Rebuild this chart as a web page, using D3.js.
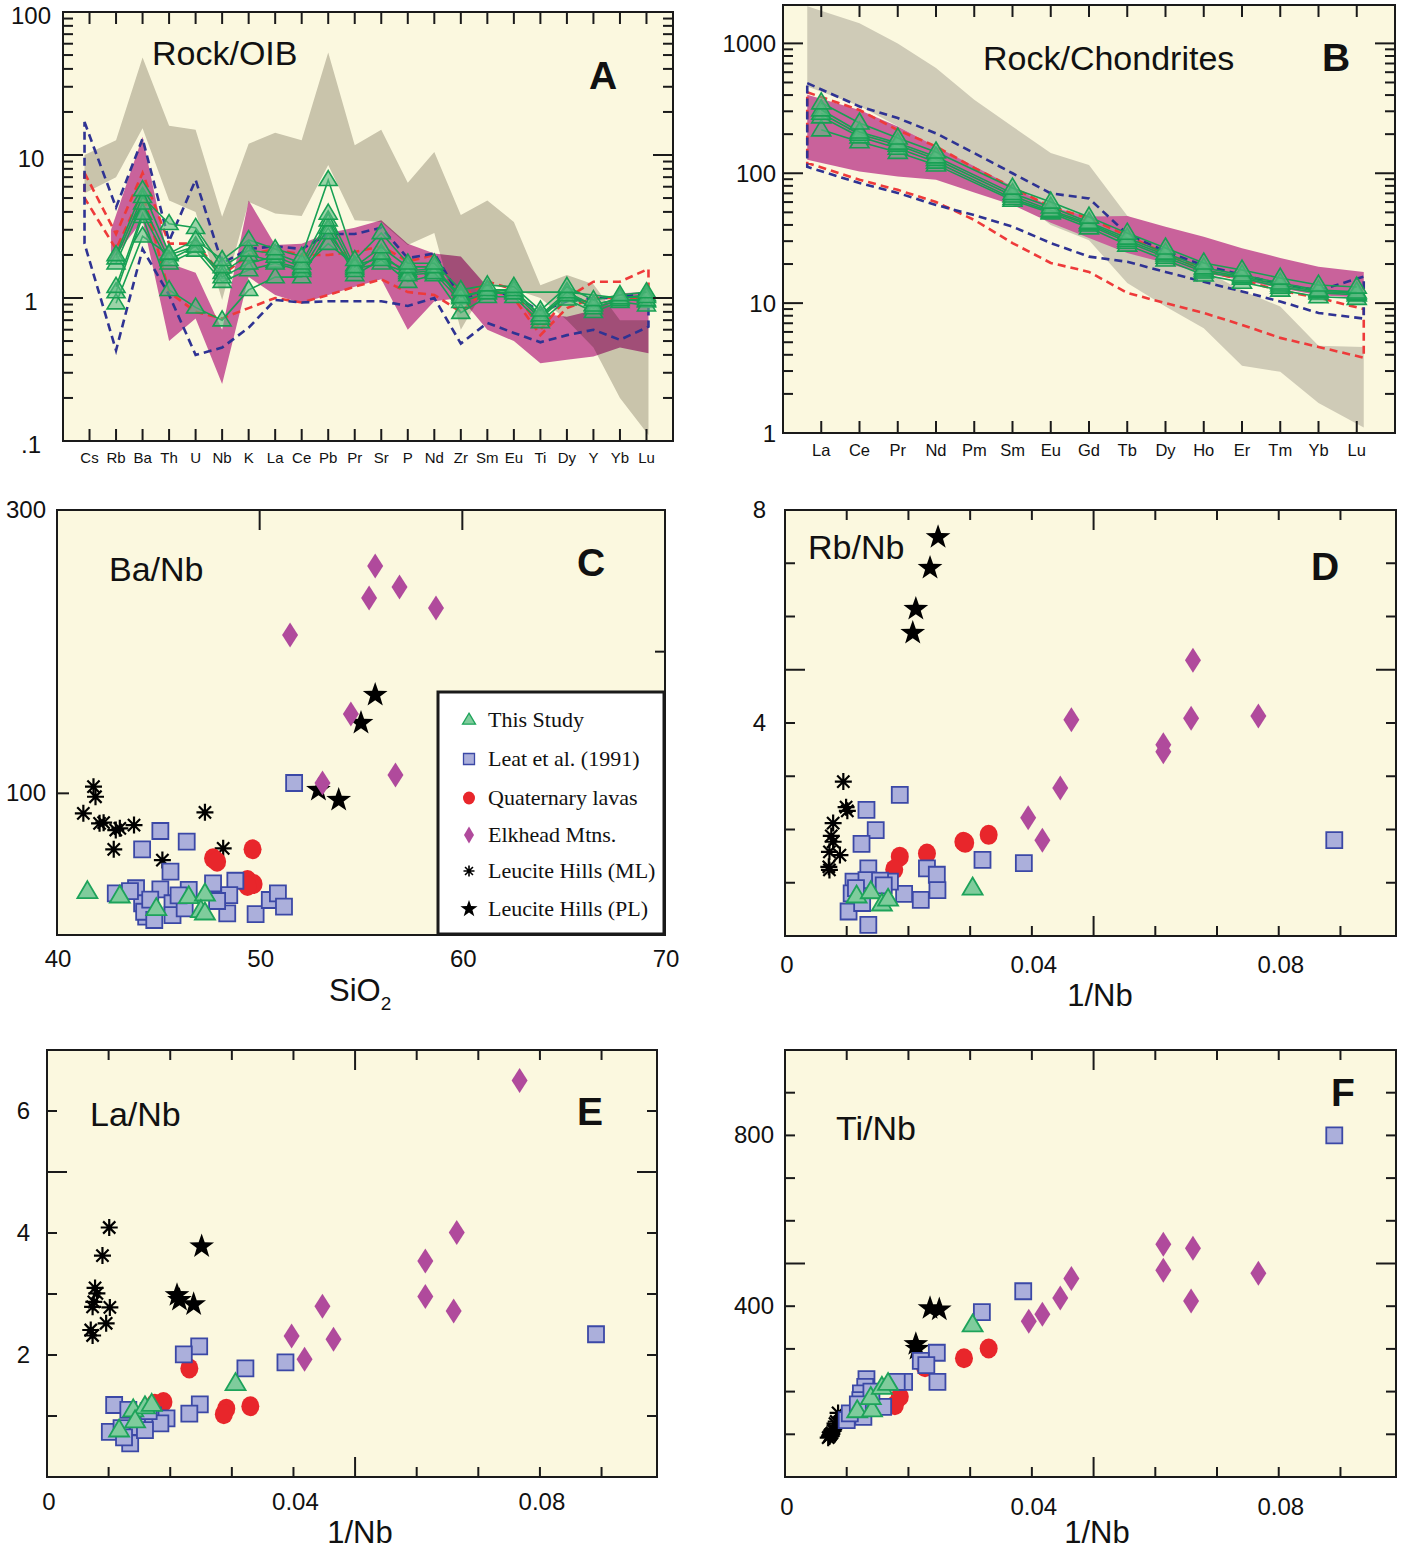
<!DOCTYPE html>
<html>
<head>
<meta charset="utf-8">
<script src="https://cdn.jsdelivr.net/npm/d3@7"></script>
<style>
  body { margin: 0; background: #fff; }
  svg text { font-family: "Liberation Sans", Arial, Helvetica, sans-serif; fill: #111; }
</style>
</head>
<body>
<svg id="fig" width="1406" height="1550"></svg>
<script>
// ---------- panel A : Rock/OIB spidergram ----------
var oibElements = ["Cs","Rb","Ba","Th","U","Nb","K","La","Ce","Pb","Pr","Sr","P","Nd","Zr","Sm","Eu","Ti","Dy","Y","Yb","Lu"];
var oibGreyHi = [10,12.7,48,16,15,3.7,12,14.3,12.7,52,11.7,15,6.4,10.5,3.8,4.8,3.4,1.23,1.45,1.25,0.7,0.7];
var oibGreyLo = [5.4,7.0,15.4,4.8,4.0,0.97,4.7,3.9,3.75,8.5,3.5,3.4,2.35,2.85,0.6,1.25,1.15,1.0,0.7,0.45,0.2,0.11];
var oibPinkHi = [null,3.0,13.4,1.75,1.5,0.6,4.8,2.35,2.4,2.85,3.1,3.5,2.4,2.05,1.95,1.2,1.0,0.78,0.74,0.82,1.08,1.1];
var oibPinkLo = [null,1.8,3.5,0.5,0.72,0.25,1.4,1.05,0.92,1.05,1.2,1.35,0.6,0.95,1.0,0.6,0.5,0.35,0.37,0.39,0.45,0.41];
var oibBlueHi = [17,4.3,13,2.5,6.7,1.75,2.2,2.3,2.2,2.8,2.8,3.1,1.9,2.05,1.0,1.1,1.05,0.8,0.95,1.0,1.0,1.1];
var oibBlueLo = [2.4,0.43,2.2,1.05,0.40,0.45,0.62,0.97,0.93,0.95,0.95,0.95,0.88,1.0,0.48,0.67,0.57,0.49,0.55,0.6,0.51,0.63];
var oibRedHi = [7.5,2.8,7.5,2.4,2.4,1.45,2.0,2.2,2.0,2.0,2.1,2.3,1.8,2.0,1.0,1.3,1.15,0.6,1.0,1.3,1.3,1.6];
var oibRedLo = [5.0,2.2,5.5,1.1,0.8,0.72,0.85,1.0,0.93,1.05,1.2,1.35,1.1,1.05,0.8,1.17,1.0,0.55,0.85,1.0,1.0,1.0];
var oibSample1 = [null,2.0,5.7,2.05,2.55,1.85,2.55,2.2,1.95,6.7,1.85,2.85,1.75,1.75,1.14,1.23,1.2,0.82,1.2,0.97,1.05,1.1];
var oibSample2 = [null,1.9,5.1,3.3,3.1,1.65,2.15,2.05,1.75,3.9,1.65,2.27,1.65,1.65,1.02,1.14,1.14,0.76,1.1,0.89,1.0,1.02];
var oibSample3 = [null,1.75,4.6,1.85,2.3,1.4,1.75,1.95,1.65,3.5,1.55,2.05,1.45,1.5,0.94,1.08,1.08,0.72,1.05,0.85,0.97,0.97];
var oibSample4 = [null,1.2,3.9,1.75,2.15,1.3,1.57,1.75,1.55,3.1,1.45,1.85,1.3,1.45,0.79,1.02,1.02,0.68,0.98,0.80,0.94,0.89];
var oibSample5 = [null,1.1,3.7,1.14,0.86,0.70,1.14,1.4,1.4,2.85,1.6,1.75,1.5,1.55,1.05,1.1,1.1,null,1.1,null,1.0,1.05];
var oibSample6 = [null,0.92,2.7,2.0,2.3,1.5,2.0,1.8,1.6,2.4,1.7,1.9,1.55,1.6,1.0,1.15,1.12,0.75,1.05,0.9,0.98,0.95];
var oibTicks = [0.1,1,10,100];
var oibTickLabels = [".1","1","10","100"];

// ---------- panel B : Rock/Chondrites REE ----------
var reeElements = ["La","Ce","Pr","Nd","Pm","Sm","Eu","Gd","Tb","Dy","Ho","Er","Tm","Yb","Lu"];
var reeGreyHi = [1930,1430,1000,645,368,229,143,116,47,30,18,12.5,9.4,4.7,4.6];
var reeGreyLo = [466,330,230,160,100,68,40,30.5,14.3,9.4,6.4,3.3,2.96,1.7,1.1];
var reePinkHi = [402,307,229,161,113,79,55,46.5,46.9,38.8,32.5,26.5,22.3,19.1,17.4];
var reePinkLo = [127,103,94.5,89,71,57,41.5,31.8,24.3,20.4,17,15,13,11.5,11];
var reeBlueHi = [494,327,266,203,143,100,70,64,34,25,19.5,16.5,14,12.5,16];
var reeBlueLo = [112,84,70.5,57,47.6,38.8,29,22.8,20.8,17.4,14.6,12.3,10.3,8.4,7.6];
var reeRedHi = [420,307,215,161,110,78,55,45,33,24,18,15,12.5,11,9];
var reeRedLo = [120,89,74.5,60,43.7,29,20.4,17.4,12,10,8.4,6.8,5.4,4.6,3.8];
var reeSample1 = [349,244,187,146,null,77,60,46,34.6,26.6,20.4,18,15.6,13.8,13.3];
var reeSample2 = [308,208,171,134,null,70,55,42,31.7,24.3,18.7,16.5,14.3,12.6,12.2];
var reeSample3 = [290,200,165,128,null,67,52,41,30.5,23.5,18,16,13.8,12.3,11.9];
var reeSample4 = [272,191,156,122,null,64,50.5,40,29.5,22.6,17.4,15.6,13.3,12,11.6];
var reeSample5 = [216,175,145,116,null,62,49.5,38,28,21.5,16.5,14.5,12.6,11.2,10.9];
var reeTicks = [1,10,100,1000];
var reeTickLabels = ["1","10","100","1000"];

// ---------- panel C : Ba/Nb vs SiO2 ----------
var baNbThisStudy = [[41.5,30.6],[43.1,27.5],[44.9,18.6],[46.5,27],[47.3,28.9],[47.1,17.2],[47.3,15.5]];
var baNbLeat = [[51.7,107.3],[45.1,73.4],[44.2,60.5],[46.4,65.9],[45.6,44.7],[42.9,29.4],[43.9,33],[44.2,22.4],[44.4,13],[45.1,32.2],[45.7,22.4],[45.7,14.1],[46.5,31.8],[46.3,18.8],[47.7,36.5],[48.8,38.3],[48.5,28.2],[48.4,15.3],[49.8,14.8],[50.5,24.7],[50.9,29.4],[51.2,20],[44.3,16.4],[44.8,10.6],[43.6,31],[44.6,25],[46.0,28],[47.9,24]];
var baNbQuaternary = [[47.7,54.1],[47.9,51.7],[49.65,60.5],[49.4,38.8],[49.7,36],[49.4,34.6]];
var baNbElkhead = [[55.7,260.5],[55.4,237.9],[56.9,245.6],[58.7,230.8],[51.5,211.8],[54.5,156],[53.1,107.3],[56.7,112.9]];
var baNbLeuciteML = [[41.8,104.7],[41.9,97.6],[41.3,85.9],[42.1,78.8],[42.3,79.3],[42.9,74.1],[43.1,75.3],[43.8,77.6],[42.8,60.5],[45.2,52.9],[47.3,86.6],[48.2,61.2]];
var baNbLeucitePL = [[55.7,169.4],[55.0,149.6],[53.9,95.3],[52.9,102.4]];

// ---------- panel D : Rb/Nb vs 1/Nb ----------
var rbNbThisStudy = [[0.0304,0.90],[0.0116,0.75],[0.0139,0.83],[0.0157,0.60],[0.0167,0.69]];
var rbNbLeat = [[0.0890,1.80],[0.0186,2.65],[0.0132,2.37],[0.0147,1.99],[0.0124,1.73],[0.0230,1.27],[0.0246,1.15],[0.0247,0.86],[0.0220,0.68],[0.0193,0.79],[0.0170,1.02],[0.0135,1.27],[0.0111,1.02],[0.0108,0.80],[0.0132,1.05],[0.0154,1.04],[0.0103,0.46],[0.0135,0.21],[0.0320,1.43],[0.0387,1.37],[0.0115,0.90],[0.0125,0.62],[0.0160,0.95]];
var rbNbQuaternary = [[0.0186,1.49],[0.0177,1.25],[0.0230,1.55],[0.0289,1.77],[0.0330,1.90],[0.0292,1.75]];
var rbNbElkhead = [[0.0661,5.18],[0.0464,4.06],[0.0658,4.09],[0.0767,4.13],[0.0613,3.59],[0.0613,3.46],[0.0446,2.78],[0.0394,2.22],[0.0417,1.80]];
var rbNbLeuciteML = [[0.00945,2.90],[0.0101,2.35],[0.0099,2.42],[0.0078,2.12],[0.0078,1.77],[0.0072,1.58],[0.0089,1.52],[0.0072,1.24],[0.0075,1.88],[0.0071,1.30]];
var rbNbLeucitePL = [[0.0248,7.49],[0.0235,6.91],[0.0212,6.14],[0.0207,5.69]];

// ---------- panel E : La/Nb vs 1/Nb ----------
var laNbThisStudy = [[0.0306,1.53],[0.0117,0.77],[0.0140,1.10],[0.0159,1.15],[0.0170,1.19],[0.0143,0.92]];
var laNbLeat = [[0.0891,2.34],[0.0247,2.14],[0.0222,2.01],[0.0322,1.78],[0.0387,1.88],[0.0248,1.19],[0.0231,1.04],[0.0109,1.18],[0.0132,1.10],[0.0102,0.74],[0.0121,0.80],[0.0135,0.55],[0.0148,0.82],[0.0172,1.01],[0.0194,0.96],[0.0184,0.88],[0.0159,0.77],[0.0125,0.65],[0.0165,1.08]];
var laNbQuaternary = [[0.0231,1.78],[0.0189,1.23],[0.0291,1.12],[0.0287,1.03],[0.0330,1.16],[0.0175,1.20]];
var laNbElkhead = [[0.0767,6.50],[0.0665,4.01],[0.0614,3.54],[0.0614,2.96],[0.0660,2.72],[0.0447,2.80],[0.0397,2.31],[0.0465,2.26],[0.0418,1.93]];
var laNbLeuciteML = [[0.0101,4.09],[0.0090,3.63],[0.0078,3.10],[0.0081,3.01],[0.0074,2.79],[0.0076,2.87],[0.0102,2.78],[0.0096,2.52],[0.0071,2.41],[0.0074,2.32]];
var laNbLeucitePL = [[0.0251,3.78],[0.0211,2.98],[0.0215,2.90],[0.0238,2.83]];

// ---------- panel F : Ti/Nb vs 1/Nb ----------
var tiNbThisStudy = [[0.0304,356],[0.0117,155],[0.0141,157],[0.0139,186],[0.0157,210],[0.0167,219]];
var tiNbLeat = [[0.0890,800],[0.0386,435],[0.0319,386],[0.0246,291],[0.0220,272],[0.0229,262],[0.0247,223],[0.0193,223],[0.0181,223],[0.0132,229],[0.0130,211],[0.0123,196],[0.0122,180],[0.0159,164],[0.0127,141],[0.0100,133],[0.0105,149],[0.0140,200],[0.0118,170]];
var tiNbQuaternary = [[0.0290,278],[0.0330,301],[0.0227,257],[0.0186,188],[0.0178,168]];
var tiNbElkhead = [[0.0613,545],[0.0661,536],[0.0613,484],[0.0767,477],[0.0464,465],[0.0658,412],[0.0446,419],[0.0417,381],[0.0395,365]];
var tiNbLeuciteML = [[0.0073,98],[0.0076,103],[0.0070,92],[0.0078,108],[0.0072,95],[0.0086,150],[0.0081,125],[0.0074,100],[0.0079,112],[0.0083,130]];
var tiNbLeucitePL = [[0.0235,395],[0.0250,392],[0.0212,311],[0.0214,300]];

var legendNames = ["This Study","Leat et al. (1991)","Quaternary lavas","Elkhead Mtns.","Leucite Hills (ML)","Leucite Hills (PL)"];

// ---------- style ----------
var cream = "#fbf8df";
var ink = "#1a1a1a";
var greenLine = "#17a053";
var triFill = "#7fcc9c", triStroke = "#1da35a";
var sqFill = "#abafdb", sqStroke = "#3b48a6";
var redFill = "#e8262b";
var diaFill = "#b04a9c";

var svg = d3.select("#fig");

// ---------- marker shapes ----------
function triPath(w, h) {
  return "M0," + (-h * 0.62) + "L" + (w / 2) + "," + (h * 0.38) + "L" + (-w / 2) + "," + (h * 0.38) + "Z";
}
function sqPath(s) {
  var a = s / 2;
  return "M" + (-a) + "," + (-a) + "h" + s + "v" + s + "h" + (-s) + "Z";
}
function diaPath(w, h) {
  return "M0," + (-h / 2) + "L" + (w / 2) + ",0L0," + (h / 2) + "L" + (-w / 2) + ",0Z";
}
function starPath(R) {
  var p = [];
  for (var i = 0; i < 10; i++) {
    var r = i % 2 === 0 ? R : R * 0.4;
    var a = -Math.PI / 2 + i * Math.PI / 5;
    p.push([r * Math.cos(a), r * Math.sin(a)]);
  }
  return "M" + p.join("L") + "Z";
}
function asterPath(s) {
  var a = s / 2, b = a * 0.72;
  return "M0," + (-a) + "V" + a + "M" + (-a) + ",0H" + a +
         "M" + (-b) + "," + (-b) + "L" + b + "," + b + "M" + (-b) + "," + b + "L" + b + "," + (-b);
}

// ---------- helpers ----------
function panelBox(id, x0, y0, x1, y1) {
  svg.append("clipPath").attr("id", id).append("rect")
    .attr("x", x0).attr("y", y0).attr("width", x1 - x0).attr("height", y1 - y0);
  var g = svg.append("g").attr("clip-path", "url(#" + id + ")");
  // background inside the group so blending sees the cream
  g.append("rect").attr("x", x0).attr("y", y0).attr("width", x1 - x0).attr("height", y1 - y0)
    .attr("fill", cream);
  return g;
}
function frameBox(x0, y0, x1, y1) {
  svg.append("rect").attr("x", x0).attr("y", y0).attr("width", x1 - x0).attr("height", y1 - y0)
    .attr("fill", "none").attr("stroke", ink).attr("stroke-width", 2);
}
function tick(x1, y1, x2, y2) {
  svg.append("line").attr("x1", x1).attr("y1", y1).attr("x2", x2).attr("y2", y2)
    .attr("stroke", ink).attr("stroke-width", 2);
}
function label(x, y, txt, size, anchor, weight) {
  return svg.append("text").attr("x", x).attr("y", y)
    .attr("font-size", size).attr("text-anchor", anchor || "start")
    .attr("font-weight", weight || "normal").text(txt);
}
function bandPath(x, y, names, hi, lo, extL, extR) {
  var idx = d3.range(names.length).filter(function (i) { return hi[i] != null; });
  var first = idx[0], last = idx[idx.length - 1];
  function px(i) { return x(names[i]) + (i === first ? -extL : (i === last ? extR : 0)); }
  var pts = idx.map(function (i) { return [px(i), y(hi[i])]; })
    .concat(idx.slice().reverse().map(function (i) { return [px(i), y(lo[i])]; }));
  return "M" + pts.join("L") + "Z";
}
function logSideTicks(y, x0, x1, lo, hi) {
  for (var d = lo; d < hi * 10; d *= 10) {
    for (var m = 1; m < 10; m++) {
      var v = m * d;
      if (v < lo * 0.999 || v > hi * 1.001) continue;
      var len = m === 1 ? 20 : 10;
      tick(x0, y(v), x0 + len, y(v));
      tick(x1 - len, y(v), x1, y(v));
    }
  }
}

// ---------- spidergram panel ----------
function spiderPanel(cfg) {
  var x = d3.scalePoint().domain(cfg.names).range([cfg.x0, cfg.x1]).padding(1);
  var y = d3.scaleLog().domain(cfg.yDomain).range([cfg.y1, cfg.y0]);
  var g = panelBox(cfg.id, cfg.x0, cfg.y0, cfg.x1, cfg.y1);

  if (cfg.multiply) {
    g.append("path").attr("d", bandPath(x, y, cfg.names, cfg.pinkHi, cfg.pinkLo, cfg.extL, cfg.extR))
      .attr("fill", "#c9629b");
    g.append("path").attr("d", bandPath(x, y, cfg.names, cfg.greyHi, cfg.greyLo, cfg.extL, cfg.extR))
      .attr("fill", cfg.grey).style("mix-blend-mode", "multiply");
  } else {
    g.append("path").attr("d", bandPath(x, y, cfg.names, cfg.greyHi, cfg.greyLo, cfg.extL, cfg.extR))
      .attr("fill", cfg.grey);
    g.append("path").attr("d", bandPath(x, y, cfg.names, cfg.pinkHi, cfg.pinkLo, cfg.extL, cfg.extR))
      .attr("fill", "#c9629b");
  }
  g.append("path").attr("d", bandPath(x, y, cfg.names, cfg.redHi, cfg.redLo, cfg.extL, cfg.extR))
    .attr("fill", "none").attr("stroke", "#ee3a3a").attr("stroke-width", 2.6)
    .attr("stroke-dasharray", "8,5");
  g.append("path").attr("d", bandPath(x, y, cfg.names, cfg.blueHi, cfg.blueLo, cfg.extL, cfg.extR))
    .attr("fill", "none").attr("stroke", "#2f3393").attr("stroke-width", 2.6)
    .attr("stroke-dasharray", "8,5");

  var line = d3.line().x(function (d) { return x(d.el); }).y(function (d) { return y(d.v); });
  cfg.samples.forEach(function (s) {
    var pts = cfg.names.map(function (el, i) { return { el: el, v: s[i] }; })
      .filter(function (d) { return d.v != null; });
    g.append("path").datum(pts).attr("d", line)
      .attr("fill", "none").attr("stroke", greenLine).attr("stroke-width", 1.6);
    g.selectAll(null).data(pts).enter().append("path")
      .attr("d", triPath(cfg.tri[0], cfg.tri[1]))
      .attr("transform", function (d) { return "translate(" + x(d.el) + "," + y(d.v) + ")"; })
      .attr("fill", "#5cbb82").attr("fill-opacity", 0.6)
      .attr("stroke", greenLine).attr("stroke-width", 1.6);
  });

  frameBox(cfg.x0, cfg.y0, cfg.x1, cfg.y1);
  logSideTicks(y, cfg.x0, cfg.x1, cfg.yDomain[0], cfg.yDomain[1]);
  cfg.names.forEach(function (el) {
    tick(x(el), cfg.y0, x(el), cfg.y0 + 12);
    tick(x(el), cfg.y1 - 12, x(el), cfg.y1);
    label(x(el), cfg.catY, el, cfg.catSize, "middle");
  });
  cfg.ticks.forEach(function (v, i) {
    label(cfg.tickX, y(v) + cfg.tickDy, cfg.tickLabels[i], 24, cfg.tickAnchor);
  });
}

spiderPanel({
  id: "clipA", x0: 63, y0: 12, x1: 673, y1: 441, yDomain: [0.1, 100],
  names: oibElements, grey: "#cdcac4", multiply: true,
  greyHi: oibGreyHi, greyLo: oibGreyLo, pinkHi: oibPinkHi, pinkLo: oibPinkLo,
  blueHi: oibBlueHi, blueLo: oibBlueLo, redHi: oibRedHi, redLo: oibRedLo,
  samples: [oibSample6, oibSample5, oibSample4, oibSample3, oibSample2, oibSample1],
  extL: 5, extR: 2, tri: [18, 15], catY: 463, catSize: 15,
  ticks: oibTicks, tickLabels: oibTickLabels, tickX: 31, tickAnchor: "middle", tickDy: 12
});
spiderPanel({
  id: "clipB", x0: 783, y0: 5, x1: 1395, y1: 433, yDomain: [1, 1975],
  names: reeElements, grey: "#cfcbb7", multiply: false,
  greyHi: reeGreyHi, greyLo: reeGreyLo, pinkHi: reePinkHi, pinkLo: reePinkLo,
  blueHi: reeBlueHi, blueLo: reeBlueLo, redHi: reeRedHi, redLo: reeRedLo,
  samples: [reeSample5, reeSample4, reeSample3, reeSample2, reeSample1],
  extL: 14, extR: 7, tri: [19, 16], catY: 456, catSize: 16.5,
  ticks: reeTicks, tickLabels: reeTickLabels, tickX: 776, tickAnchor: "end", tickDy: 9
});

label(152, 65, "Rock/OIB", 34);
label(589, 89, "A", 39, "start", "bold");
label(983, 70, "Rock/Chondrites", 34);
label(1322, 71, "B", 39, "start", "bold");

// ---------- scatter panels ----------
function drawSeries(g, x, y, sets) {
  function place(d) { return "translate(" + x(d[0]) + "," + y(d[1]) + ")"; }
  g.selectAll(null).data(sets.pl).enter().append("path")
    .attr("d", starPath(13)).attr("transform", place).attr("fill", "#000");
  g.selectAll(null).data(sets.ml).enter().append("path")
    .attr("d", asterPath(17)).attr("transform", place)
    .attr("fill", "none").attr("stroke", "#000").attr("stroke-width", 2.2);
  g.selectAll(null).data(sets.quat).enter().append("ellipse")
    .attr("cx", function (d) { return x(d[0]); }).attr("cy", function (d) { return y(d[1]); })
    .attr("rx", 9).attr("ry", 10).attr("fill", redFill);
  g.selectAll(null).data(sets.leat).enter().append("path")
    .attr("d", sqPath(16)).attr("transform", place)
    .attr("fill", sqFill).attr("stroke", sqStroke).attr("stroke-width", 1.8);
  g.selectAll(null).data(sets.tri).enter().append("path")
    .attr("d", triPath(20, 17)).attr("transform", place)
    .attr("fill", triFill).attr("stroke", triStroke).attr("stroke-width", 1.8);
  g.selectAll(null).data(sets.elk).enter().append("path")
    .attr("d", diaPath(16, 25)).attr("transform", place).attr("fill", diaFill);
}

function scatterPanel(cfg) {
  var x = d3.scaleLinear().domain(cfg.xDomain).range([cfg.x0, cfg.x1]);
  var y = d3.scaleLinear().domain(cfg.yDomain).range([cfg.y1, cfg.y0]);
  var g = panelBox(cfg.id, cfg.x0, cfg.y0, cfg.x1, cfg.y1);
  drawSeries(g, x, y, cfg.sets);
  frameBox(cfg.x0, cfg.y0, cfg.x1, cfg.y1);

  cfg.ticks.forEach(function (t) {
    var side = t[0], v = t[1], len = t[2];
    if (side === "top") tick(x(v), cfg.y0, x(v), cfg.y0 + len);
    if (side === "bottom") tick(x(v), cfg.y1 - len, x(v), cfg.y1);
    if (side === "left") tick(cfg.x0, y(v), cfg.x0 + len, y(v));
    if (side === "right") tick(cfg.x1 - len, y(v), cfg.x1, y(v));
  });
  cfg.xLabels.forEach(function (v) {
    label(x(v) + cfg.xLabelShift, cfg.xLabelY, cfg.xFormat(v), 24, "middle");
  });
  cfg.yLabels.forEach(function (v) {
    label(cfg.yLabelX, y(v) + 8, String(v), 24, "end");
  });
  return { x: x, y: y };
}

function gridTicks(xs, ys, xMajor, yMajor) {
  var out = [];
  xs.forEach(function (v) {
    var len = Math.abs(v - xMajor) < 1e-9 ? 20 : 10;
    out.push(["top", v, len]); out.push(["bottom", v, len]);
  });
  ys.forEach(function (v) {
    var len = Math.abs(v - yMajor) < 1e-9 ? 20 : 10;
    out.push(["left", v, len]); out.push(["right", v, len]);
  });
  return out;
}
var nbTicks = [0.01,0.02,0.03,0.04,0.05,0.06,0.07,0.08,0.09];
function fmtNb(v) { return v === 0 ? "0" : d3.format(".2f")(v); }

// C
scatterPanel({
  id: "clipC", x0: 57, y0: 510, x1: 665, y1: 935, xDomain: [40, 70], yDomain: [0, 300],
  sets: { tri: baNbThisStudy, leat: baNbLeat, quat: baNbQuaternary, elk: baNbElkhead, ml: baNbLeuciteML, pl: baNbLeucitePL },
  ticks: [["top", 50, 20], ["top", 60, 20], ["left", 100, 12], ["right", 200, 10]],
  xLabels: [40, 50, 60, 70], xLabelY: 967, xLabelShift: 1, xFormat: String,
  yLabels: [100, 300], yLabelX: 46
});
// D
scatterPanel({
  id: "clipD", x0: 785, y0: 510, x1: 1396, y1: 936, xDomain: [0, 0.099], yDomain: [0, 8],
  sets: { tri: rbNbThisStudy, leat: rbNbLeat, quat: rbNbQuaternary, elk: rbNbElkhead, ml: rbNbLeuciteML, pl: rbNbLeucitePL },
  ticks: gridTicks(nbTicks, [1,2,3,4,5,6,7], 0.05, 5),
  xLabels: [0, 0.04, 0.08], xLabelY: 973, xLabelShift: 2, xFormat: fmtNb,
  yLabels: [4, 8], yLabelX: 766
});
// E
scatterPanel({
  id: "clipE", x0: 47, y0: 1050, x1: 657, y1: 1477, xDomain: [0, 0.099], yDomain: [0, 7],
  sets: { tri: laNbThisStudy, leat: laNbLeat, quat: laNbQuaternary, elk: laNbElkhead, ml: laNbLeuciteML, pl: laNbLeucitePL },
  ticks: gridTicks(nbTicks, [1,2,3,4,5,6], 0.05, 5),
  xLabels: [0, 0.04, 0.08], xLabelY: 1510, xLabelShift: 2, xFormat: fmtNb,
  yLabels: [2, 4, 6], yLabelX: 30
});
// F
scatterPanel({
  id: "clipF", x0: 785, y0: 1050, x1: 1396, y1: 1477, xDomain: [0, 0.099], yDomain: [0, 1000],
  sets: { tri: tiNbThisStudy, leat: tiNbLeat, quat: tiNbQuaternary, elk: tiNbElkhead, ml: tiNbLeuciteML, pl: tiNbLeucitePL },
  ticks: gridTicks(nbTicks, [100,200,300,400,500,600,700,800,900], 0.05, 500),
  xLabels: [0, 0.04, 0.08], xLabelY: 1515, xLabelShift: 2, xFormat: fmtNb,
  yLabels: [400, 800], yLabelX: 774
});

// panel titles / axis titles
label(109, 581, "Ba/Nb", 34);
label(577, 576, "C", 39, "start", "bold");
label(808, 559, "Rb/Nb", 34);
label(1311, 580, "D", 39, "start", "bold");
label(90, 1126, "La/Nb", 34);
label(577, 1125, "E", 39, "start", "bold");
label(836, 1140, "Ti/Nb", 34);
label(1331, 1106, "F", 39, "start", "bold");

var sio2 = svg.append("text").attr("x", 329).attr("y", 1001).attr("font-size", 31);
sio2.append("tspan").text("SiO");
sio2.append("tspan").attr("font-size", 19).attr("dy", 9).text("2");
label(1100, 1006, "1/Nb", 31, "middle");
label(360, 1543, "1/Nb", 31, "middle");
label(1097, 1543, "1/Nb", 31, "middle");

// ---------- legend (panel C) ----------
var leg = svg.append("g");
leg.append("rect").attr("x", 438).attr("y", 692).attr("width", 226).attr("height", 242)
  .attr("fill", "#fff").attr("stroke", ink).attr("stroke-width", 3);
var legRows = [720, 759, 798, 835, 871, 909];
var legShapes = [
  function (gg) { gg.append("path").attr("d", triPath(13, 11)).attr("fill", triFill).attr("stroke", triStroke).attr("stroke-width", 1.3); },
  function (gg) { gg.append("path").attr("d", sqPath(11)).attr("fill", sqFill).attr("stroke", sqStroke).attr("stroke-width", 1.3); },
  function (gg) { gg.append("ellipse").attr("rx", 6).attr("ry", 6.5).attr("fill", redFill); },
  function (gg) { gg.append("path").attr("d", diaPath(10, 17)).attr("fill", diaFill); },
  function (gg) { gg.append("path").attr("d", asterPath(11)).attr("fill", "none").attr("stroke", "#000").attr("stroke-width", 1.6); },
  function (gg) { gg.append("path").attr("d", starPath(9)).attr("fill", "#000"); }
];
legendNames.forEach(function (name, i) {
  var gg = leg.append("g").attr("transform", "translate(469," + legRows[i] + ")");
  legShapes[i](gg);
  leg.append("text").attr("x", 488).attr("y", legRows[i] + 7)
    .attr("font-size", 22).style("font-family", "'Liberation Serif','Times New Roman',serif")
    .text(name);
});
</script>
</body>
</html>
